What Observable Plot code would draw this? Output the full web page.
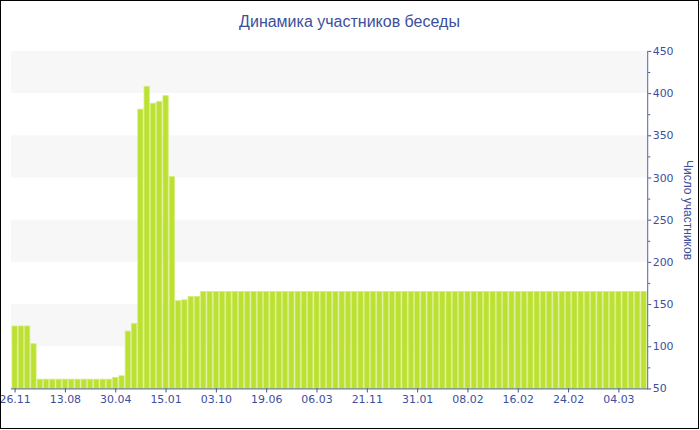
<!DOCTYPE html>
<html>
<head>
<meta charset="utf-8">
<script src="https://cdn.jsdelivr.net/npm/d3@7"></script>
<script src="https://cdn.jsdelivr.net/npm/@observablehq/plot@0.6"></script>
<style>
  html, body { margin: 0; padding: 0; background: #fff; }
  #wrap { position: relative; width: 699px; height: 429px; box-sizing: border-box; border: 1px solid #000; overflow: hidden; background: #fff; }
  #title { position: absolute; left: 0; width: 697px; top: 12px; text-align: center; font-family: "Liberation Sans", Arial, sans-serif; font-size: 16px; color: #3d4f9b; }
  #ytitle { position: absolute; left: 587px; width: 200px; top: 201px; height: 16px; line-height: 16px; text-align: center; font-family: "Liberation Sans", Arial, sans-serif; font-size: 12px; color: #3d4f9b; transform: rotate(90deg); transform-origin: 50% 50%; white-space: nowrap; }
  #chart { position: absolute; left: -1px; top: 29px; }
</style>
</head>
<body>
<div id="wrap">
  <div id="title">Динамика участников беседы</div>
  <div id="chart"></div>
  <div id="ytitle"></div>
</div>
<script>
// participant counts per day (left to right)
const values = [
  124, 124, 124, 103,
  61, 61, 61, 61, 61, 61, 61, 61, 61, 61, 61, 61,
  63, 65, 118, 127,
  381, 408, 388, 390, 397, 301,
  154, 155, 159, 159,
  165, 165, 165, 165, 165, 165, 165, 165, 165, 165,
  165, 165, 165, 165, 165, 165, 165, 165, 165, 165,
  165, 165, 165, 165, 165, 165, 165, 165, 165, 165,
  165, 165, 165, 165, 165, 165, 165, 165, 165, 165,
  165, 165, 165, 165, 165, 165, 165, 165, 165, 165,
  165, 165, 165, 165, 165, 165, 165, 165, 165, 165,
  165, 165, 165, 165, 165, 165, 165, 165, 165, 165,
  165
];
// x tick labels and the bar index they sit under
const tickLabels = ["26.11","13.08","30.04","15.01","03.10","19.06","06.03","21.11","31.01","08.02","16.02","24.02","04.03"];
const tickIndex  = [0, 8, 16, 24, 32, 40, 48, 56, 64, 72, 80, 88, 96];
// y axis ticks
const yTicks = [50, 100, 150, 200, 250, 300, 350, 400, 450];
const yMinorTicks = [75, 125, 175, 225, 275, 325, 375, 425];
const yTitle = "Число участников";

document.getElementById("ytitle").textContent = yTitle;

const data = values.map((v, i) => ({i, v}));
const bands = yTicks.filter((t, k) => k % 2 === 1).map(t => ({y1: t, y2: t + 50}));
const labelOf = new Map(tickIndex.map((ix, k) => [ix, tickLabels[k]]));

const blue = "#3d4f9b";
const chart = Plot.plot({
  width: 701,
  height: 400,
  marginTop: 21,
  marginBottom: 40,
  marginLeft: 11,
  marginRight: 51,
  style: {fontFamily: "DejaVu Sans, Verdana, sans-serif", fontSize: "11px", color: blue, background: "transparent"},
  x: {type: "band", domain: data.map(d => d.i), paddingInner: 0.16, paddingOuter: 0.16, axis: null},
  y: {domain: [50, 450], axis: null},
  marks: [
    Plot.rectY(bands, {y1: "y1", y2: "y2", fill: "#f7f7f7"}),
    Plot.barY(data, {x: "i", y1: 50, y2: "v", fill: "#bde132", stroke: "#d3ec7a", strokeWidth: 0.8}),
    Plot.frame({anchor: "bottom", stroke: blue, strokeOpacity: 0.9}),
    Plot.frame({anchor: "right", stroke: blue, strokeOpacity: 0.9}),
    Plot.axisX({ticks: tickIndex, tickFormat: i => labelOf.get(i), tickSize: 4, tickPadding: 2, stroke: blue, fill: blue, fontSize: 11, label: null}),
    Plot.axisY({anchor: "right", ticks: yTicks, tickSize: 3, tickPadding: 2, stroke: blue, fill: blue, fontSize: 11, label: null}),
    Plot.axisY({anchor: "right", ticks: yMinorTicks, tickSize: 2, tickFormat: () => "", stroke: blue, label: null})
  ]
});
document.getElementById("chart").appendChild(chart);
</script>
</body>
</html>
